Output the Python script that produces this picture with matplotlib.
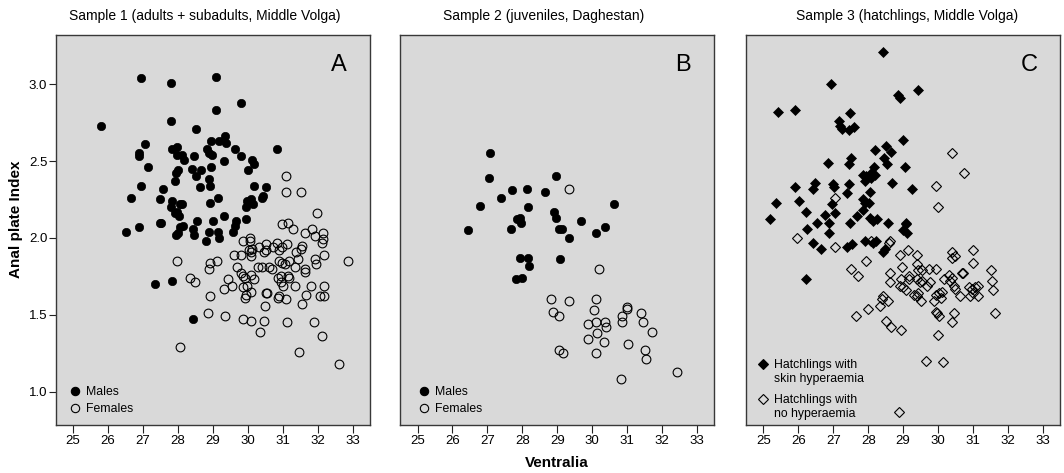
import matplotlib
matplotlib.use("Agg")
import matplotlib.pyplot as plt
import numpy as np

plt.rcParams['font.family'] = ['Liberation Sans', 'DejaVu Sans']

# Sample 1 (adults + subadults)
males1_x = [26.93, 27.79, 29.09, 29.80, 29.08, 27.80, 25.80, 28.51, 27.05, 26.89, 26.89, 27.14,
            26.95, 26.65, 26.50, 26.89, 27.84, 27.96, 27.96, 28.12, 28.16, 28.47, 28.95, 29.19,
            29.35, 29.38, 28.83, 28.90, 28.97, 29.64, 29.80, 30.13, 30.19, 29.33, 28.95, 28.39,
            28.67, 28.00, 27.95, 28.53, 27.91, 28.88, 28.92, 28.62, 27.58, 30.02, 30.18, 27.50,
            27.84, 27.80, 27.96, 28.07, 28.13, 28.03, 27.91, 28.93, 29.15, 29.99, 30.09, 30.15,
            29.95, 29.32, 29.00, 28.54, 27.53, 27.48, 28.07, 28.15, 28.00, 27.94, 28.43, 28.46,
            28.90, 29.15, 29.17, 29.66, 29.63, 29.59, 29.96, 28.81, 30.84, 30.51, 30.44, 30.42,
            28.43, 27.34, 27.82]
males1_y = [3.04, 3.01, 3.05, 2.88, 2.83, 2.76, 2.73, 2.71, 2.61, 2.55, 2.53, 2.46,
            2.34, 2.26, 2.04, 2.07, 2.58, 2.59, 2.54, 2.54, 2.51, 2.53, 2.63, 2.63,
            2.66, 2.62, 2.58, 2.55, 2.54, 2.58, 2.53, 2.51, 2.48, 2.50, 2.46, 2.45,
            2.44, 2.44, 2.42, 2.40, 2.37, 2.38, 2.34, 2.33, 2.32, 2.44, 2.34, 2.25,
            2.24, 2.20, 2.17, 2.22, 2.22, 2.14, 2.16, 2.23, 2.26, 2.24, 2.25, 2.22,
            2.20, 2.14, 2.11, 2.11, 2.10, 2.10, 2.07, 2.08, 2.03, 2.02, 2.06, 2.02,
            2.04, 2.04, 2.00, 2.11, 2.08, 2.04, 2.12, 1.98, 2.58, 2.33, 2.27, 2.26,
            1.47, 1.70, 1.72]
females1_x = [31.08, 31.10, 31.51, 31.97, 30.99, 31.16, 31.30, 31.63, 31.84, 31.93, 32.14, 32.15,
              32.11, 29.85, 30.06, 30.07, 30.04, 30.09, 30.13, 30.32, 30.53, 30.53, 30.47, 30.73,
              30.83, 30.99, 31.13, 30.89, 31.37, 31.55, 31.51, 31.44, 31.34, 31.91, 31.96, 32.17,
              31.65, 31.65, 32.88, 29.61, 29.80, 30.09, 30.28, 30.42, 30.61, 30.68, 30.89, 30.99,
              31.18, 31.06, 29.68, 29.80, 29.85, 30.09, 30.18, 29.93, 29.99, 29.85, 29.95, 29.93,
              30.09, 29.42, 29.33, 29.55, 28.93, 28.88, 29.11, 28.34, 28.48, 28.93, 28.86, 29.36,
              29.87, 30.09, 30.47, 30.35, 30.49, 30.51, 30.56, 30.89, 31.10, 30.86, 30.87, 30.94,
              31.01, 31.15, 31.18, 30.96, 31.35, 31.82, 32.17, 32.08, 32.17, 31.67, 31.54, 31.13,
              31.89, 32.12, 31.48, 32.60, 28.05, 27.96]
females1_y = [2.40, 2.30, 2.30, 2.16, 2.09, 2.10, 2.06, 2.03, 2.06, 2.01, 2.03, 1.99,
              1.97, 1.98, 2.00, 1.98, 1.92, 1.91, 1.93, 1.94, 1.96, 1.92, 1.91, 1.94,
              1.97, 1.94, 1.96, 1.92, 1.91, 1.95, 1.93, 1.86, 1.81, 1.86, 1.83, 1.89,
              1.80, 1.78, 1.85, 1.89, 1.89, 1.88, 1.81, 1.81, 1.81, 1.80, 1.85, 1.84,
              1.85, 1.83, 1.81, 1.77, 1.75, 1.76, 1.73, 1.74, 1.69, 1.68, 1.63, 1.61,
              1.65, 1.73, 1.67, 1.69, 1.84, 1.80, 1.85, 1.74, 1.71, 1.62, 1.51, 1.49,
              1.47, 1.46, 1.46, 1.39, 1.56, 1.64, 1.64, 1.62, 1.60, 1.61, 1.74, 1.71,
              1.69, 1.75, 1.74, 1.75, 1.69, 1.69, 1.69, 1.62, 1.62, 1.63, 1.57, 1.45,
              1.45, 1.36, 1.26, 1.18, 1.29, 1.85]

# Sample 2 (juveniles)
males2_x = [27.08, 27.06, 28.95, 27.70, 28.14, 28.64, 27.38, 26.80, 28.16, 30.63, 28.90, 28.97,
            27.84, 27.93, 27.95, 29.69, 30.36, 26.44, 27.67, 29.04, 29.14, 29.34, 30.11, 27.93,
            28.15, 28.20, 29.08, 27.82, 27.98]
males2_y = [2.55, 2.39, 2.40, 2.31, 2.32, 2.30, 2.26, 2.21, 2.20, 2.22, 2.17, 2.13,
            2.12, 2.13, 2.10, 2.11, 2.07, 2.05, 2.06, 2.06, 2.06, 2.00, 2.03, 1.87,
            1.87, 1.82, 1.86, 1.73, 1.74]
females2_x = [29.33, 30.20, 28.83, 29.35, 30.12, 28.87, 29.05, 30.05, 30.99, 31.01, 30.84, 30.86,
              31.39, 31.45, 31.71, 29.88, 30.10, 30.36, 30.39, 29.88, 30.13, 30.33, 31.02, 29.04,
              29.16, 30.11, 31.50, 31.55, 32.42, 30.82]
females2_y = [2.32, 1.80, 1.60, 1.59, 1.60, 1.52, 1.49, 1.53, 1.55, 1.54, 1.49, 1.45,
              1.51, 1.45, 1.39, 1.44, 1.45, 1.45, 1.42, 1.34, 1.38, 1.32, 1.31, 1.27,
              1.25, 1.25, 1.27, 1.21, 1.13, 1.08]

# Sample 3 (hatchlings)
hyper_x = [28.43, 26.94, 28.86, 28.91, 29.42, 25.43, 25.90, 27.47, 27.15, 27.25, 27.45, 27.58,
           27.20, 29.00, 28.20, 28.52, 28.64, 28.46, 28.54, 27.51, 27.45, 26.86, 29.05, 27.86,
           27.95, 28.09, 28.16, 28.19, 28.09, 27.90, 26.47, 26.43, 27.00, 27.02, 27.46, 27.39,
           28.69, 29.24, 25.90, 28.05, 27.86, 28.03, 27.92, 25.37, 26.03, 26.22, 26.96, 27.06,
           26.75, 26.87, 25.19, 26.54, 26.24, 27.48, 27.67, 27.86, 28.05, 28.14, 28.24, 28.56,
           29.08, 26.87, 26.43, 26.66, 28.99, 29.08, 29.11, 27.90, 28.23, 28.14, 27.39, 27.53,
           28.42, 28.47, 26.21]
hyper_y = [3.21, 3.00, 2.93, 2.91, 2.96, 2.82, 2.83, 2.81, 2.76, 2.71, 2.70, 2.72,
           2.73, 2.64, 2.57, 2.60, 2.56, 2.52, 2.48, 2.52, 2.48, 2.49, 2.46, 2.41,
           2.40, 2.42, 2.46, 2.41, 2.39, 2.37, 2.36, 2.32, 2.35, 2.33, 2.35, 2.29,
           2.36, 2.32, 2.33, 2.30, 2.25, 2.23, 2.23, 2.23, 2.24, 2.17, 2.22, 2.16,
           2.15, 2.10, 2.12, 2.10, 2.06, 2.10, 2.14, 2.18, 2.13, 2.11, 2.12, 2.10,
           2.10, 2.03, 1.97, 1.93, 2.05, 2.09, 2.03, 1.98, 1.98, 1.97, 1.94, 1.96,
           1.91, 1.93, 1.73]
nohyper_x = [27.06, 30.40, 30.73, 29.93, 30.01, 25.95, 27.04, 27.93, 27.51, 27.70, 28.07, 28.59,
             28.63, 28.91, 29.13, 29.41, 29.41, 29.55, 29.74, 29.93, 29.43, 28.96, 29.18, 28.63,
             28.61, 28.42, 28.38, 28.57, 28.35, 28.95, 28.90, 28.99, 29.08, 29.18, 29.41, 29.48,
             29.55, 29.69, 29.78, 29.32, 29.41, 29.51, 29.43, 29.93, 30.02, 30.07, 30.12, 29.88,
             29.98, 30.02, 29.93, 30.16, 30.35, 30.40, 30.45, 30.49, 30.68, 30.71, 30.64, 30.45,
             30.40, 30.00, 30.40, 30.49, 30.40, 31.01, 31.01, 30.87, 30.97, 31.06, 31.15, 30.92,
             31.15, 31.01, 31.51, 31.53, 31.58, 31.62, 29.65, 30.14, 28.89, 28.00, 27.65, 28.52,
             28.66, 28.95, 30.31]
nohyper_y = [2.26, 2.55, 2.42, 2.34, 2.20, 2.00, 1.94, 1.85, 1.80, 1.75, 1.98, 1.97,
             1.98, 1.89, 1.92, 1.89, 1.83, 1.79, 1.80, 1.80, 1.79, 1.81, 1.75, 1.77,
             1.71, 1.62, 1.60, 1.59, 1.56, 1.73, 1.69, 1.68, 1.66, 1.73, 1.73, 1.71,
             1.72, 1.69, 1.71, 1.63, 1.62, 1.59, 1.64, 1.63, 1.64, 1.61, 1.65, 1.59,
             1.51, 1.49, 1.52, 1.73, 1.72, 1.74, 1.69, 1.67, 1.77, 1.77, 1.62, 1.51,
             1.45, 1.37, 1.91, 1.88, 1.87, 1.92, 1.84, 1.68, 1.67, 1.68, 1.69, 1.62,
             1.62, 1.64, 1.79, 1.72, 1.66, 1.51, 1.20, 1.19, 0.87, 1.54, 1.49, 1.46,
             1.42, 1.40, 1.76]

titles = ["Sample 1 (adults + subadults, Middle Volga)",
          "Sample 2 (juveniles, Daghestan)",
          "Sample 3 (hatchlings, Middle Volga)"]
letters = ["A", "B", "C"]
x_ticks = [25, 26, 27, 28, 29, 30, 31, 32, 33]
y_ticks = [1.0, 1.5, 2.0, 2.5, 3.0]

BG = '#d9d9d9'
EDGE = '#383838'

fig = plt.figure(figsize=(10.64, 4.73), dpi=100)
lefts = [0.0523, 0.3760, 0.7011]
axes = [fig.add_axes([l, 0.1015, 0.2955, 0.8245]) for l in lefts]


def legend_entry(ax, x, y, marker, filled, label):
    fc = 'black' if filled else 'none'
    ms = 6 if marker == 'o' else 4.8
    ax.plot([x], [y], transform=ax.transAxes, marker=marker, ms=ms, mfc=fc,
            mec='black', mew=0.8, ls='none', clip_on=False)
    ax.text(x + 0.036, y + 0.013, label, transform=ax.transAxes, fontsize=8.8,
            ha='left', va='top', linespacing=1.25)


for i, ax in enumerate(axes):
    ax.set_facecolor(BG)
    ax.set_xlim(24.5, 33.5)
    ax.set_ylim(0.783, 3.32)
    ax.set_xticks(x_ticks)
    ax.tick_params(axis='x', direction='out', length=5.5, width=0.8, pad=2,
                   labelsize=9.5, color='#222222')
    if i == 0:
        ax.set_yticks(y_ticks)
        ax.set_yticklabels([f"{v:.1f}" for v in y_ticks])
        ax.tick_params(axis='y', direction='out', length=5, width=0.8, pad=1,
                       labelsize=9.5, color='#222222')
    else:
        ax.set_yticks([])
    for s in ax.spines.values():
        s.set_color(EDGE)
        s.set_linewidth(1.0)
    ax.text(0.9, 0.923, letters[i], transform=ax.transAxes, fontsize=17,
            ha='center', va='center')

ax1, ax2, ax3 = axes
ax1.plot(males1_x, males1_y, 'o', ms=6, mfc='black', mec='black', mew=0.5)
ax1.plot(females1_x, females1_y, 'o', ms=6.3, mfc='none', mec='black', mew=0.8)
legend_entry(ax1, 0.062, 0.088, 'o', True, "Males")
legend_entry(ax1, 0.062, 0.044, 'o', False, "Females")

ax2.plot(males2_x, males2_y, 'o', ms=6, mfc='black', mec='black', mew=0.5)
ax2.plot(females2_x, females2_y, 'o', ms=6.3, mfc='none', mec='black', mew=0.8)
legend_entry(ax2, 0.076, 0.088, 'o', True, "Males")
legend_entry(ax2, 0.076, 0.044, 'o', False, "Females")

ax3.plot(hyper_x, hyper_y, 'D', ms=4.8, mfc='black', mec='black', mew=0.5)
ax3.plot(nohyper_x, nohyper_y, 'D', ms=4.8, mfc='none', mec='black', mew=0.8)
legend_entry(ax3, 0.053, 0.156, 'D', True, "Hatchlings with\nskin hyperaemia")
legend_entry(ax3, 0.053, 0.067, 'D', False, "Hatchlings with\nno hyperaemia")

title_x = [205 / 1064, 544 / 1064, 907 / 1064]
for tx, t in zip(title_x, titles):
    fig.text(tx, 1 - 16 / 473, t, fontsize=10, ha='center', va='center')

fig.text(0.0146, 0.536, "Anal plate Index", rotation=90, fontsize=11,
         fontweight='bold', ha='center', va='center')
fig.text(557 / 1064, 1 - 463 / 473, "Ventralia", fontsize=11,
         fontweight='bold', ha='center', va='center')

fig.savefig("out.png", dpi=100)
